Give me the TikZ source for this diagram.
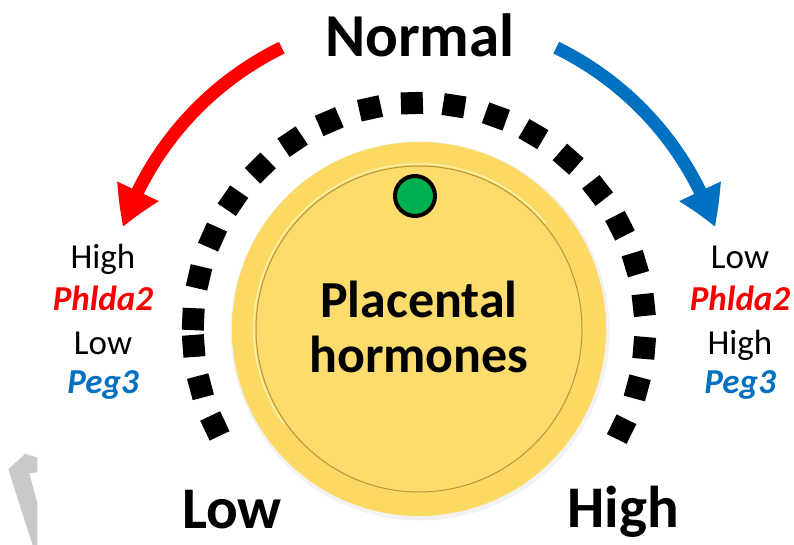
\documentclass[tikz,border=0pt]{standalone}
\usepackage{fontspec}
\setmainfont{Carlito}
\usetikzlibrary{arrows.meta,bending}
\definecolor{ringA}{HTML}{FBD962}
\definecolor{ringB}{HTML}{FADA66}
\definecolor{ringC}{HTML}{F2CC55}
\definecolor{diskfill}{HTML}{FCDC6C}
\definecolor{diskline}{HTML}{B99539}
\definecolor{disklight}{HTML}{FFF0A8}
\definecolor{dotgreen}{HTML}{00B050}
\definecolor{redcol}{HTML}{F60000}
\definecolor{bluecol}{HTML}{0070C0}
\definecolor{wmgray}{HTML}{C8C9CB}
\pgfdeclareradialshading{knobshade}{\pgfpoint{0bp}{0bp}}{color(0bp)=(ringA); color(40bp)=(ringA); color(47bp)=(ringB); color(50bp)=(ringC)}
\tikzset{
  tick/.style={fill=black, minimum size=22pt, inner sep=0pt, outer sep=0pt},
  bigword/.style={font=\fontsize{59}{70}\selectfont\bfseries, anchor=base, inner sep=0pt},
  sideword/.style={font=\fontsize{35}{40}\selectfont, anchor=base, inner sep=0pt},
  generedtext/.style={sideword, font=\fontsize{35}{40}\selectfont\bfseries\itshape, text=redcol},
  genebluetext/.style={sideword, font=\fontsize{35}{40}\selectfont\bfseries\itshape, text=bluecol},
  turnarrow/.style={line width=13pt, -{Triangle[width=43pt,length=39pt,bend]}},
}
\begin{document}
\begin{tikzpicture}[x=1pt,y=-1pt]
\useasboundingbox (0,0) rectangle (794,545);
\coordinate (c) at (419,329);
% watermark fragment
\fill[wmgray] (8.3,469.3) -- (25,454) -- (37.3,457.3) -- (37.3,472.3) -- (29.3,473.3) -- (37.3,503.3) -- (37.3,545) -- (32.5,545) -- cycle;
% knob
\fill[black, opacity=0.05] (420,331) circle[radius=189.5pt];
\shade[shading=knobshade] (c) circle[radius=187pt];
\fill[diskfill] (c) circle[radius=163pt];
\draw[diskline, line width=1pt] (c) circle[radius=163pt];
\draw[disklight, line width=1.6pt] ([shift={(40:165.2pt)}]c) arc[start angle=40, end angle=215, radius=165.2pt];
% ticks
\foreach \a in {-26.3,-15.1,-4.8,6.1,16.8,27.2,37.8,48.7,59.6,70.1,81.1,91.8,102.5,113.4,124.0,134.6,145.4,156.0,166.8,177.5,184.3,194.8,205.4}
  \node[tick, rotate=\a] at ([shift={(\a:226pt)}]c) {};
% green indicator
\node[circle, fill=dotgreen, draw=black, line width=4pt, minimum size=40pt, inner sep=0pt] (ind) at (415,196) {};
% labels
\node[bigword, font=\fontsize{61}{70}\selectfont\bfseries] (normal) at (420,57) {Normal};
\node[bigword] (low) at (232,528) {Low};
\node[bigword] (high) at (623,527) {High};
\node[font=\fontsize{52}{60}\selectfont\bfseries, anchor=base, inner sep=0pt] (pl) at (419,317) {Placental};
\node[font=\fontsize{52}{60}\selectfont\bfseries, anchor=base, inner sep=0pt] (ho) at (419,372) {hormones};
% left column
\node[sideword] (lh) at (103,268) {High};
\node[generedtext] (lp) at (103,310) {Phlda2};
\node[sideword] (ll) at (103,354) {Low};
\node[genebluetext] (lg) at (103,393) {Peg3};
% right column
\node[sideword] (rl) at (740,268) {Low};
\node[generedtext] (rp) at (740,310) {Phlda2};
\node[sideword] (rh) at (740,354) {High};
\node[genebluetext] (rg) at (740,393) {Peg3};
% arrows
\coordinate (rtail) at ([shift={(116:313pt)}]c);
\coordinate (btail) at ([shift={(64:313pt)}]c);
\draw[turnarrow, color=red] (rtail) arc[start angle=116, end angle=161, radius=313pt];
\draw[turnarrow, color=bluecol] (btail) arc[start angle=64, end angle=19, radius=313pt];
\end{tikzpicture}
\end{document}
